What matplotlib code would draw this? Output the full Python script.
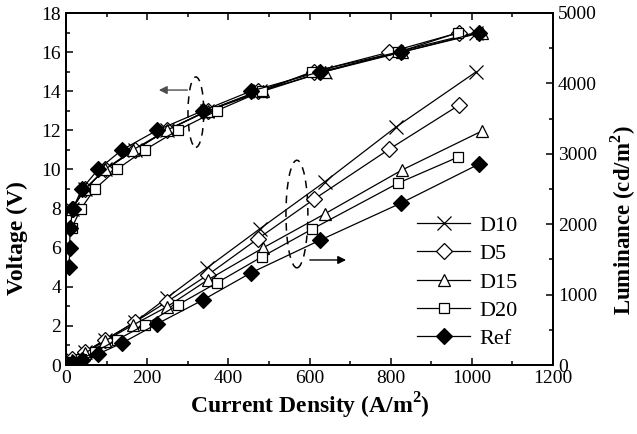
import matplotlib.pyplot as plt
from matplotlib.patches import Ellipse

plt.rcParams['font.family'] = ['Liberation Serif', 'DejaVu Serif']
plt.rcParams['mathtext.fontset'] = 'custom'
plt.rcParams['mathtext.rm'] = 'Liberation Serif'
plt.rcParams['mathtext.bf'] = 'Liberation Serif:bold'

# current density (A/m^2), voltage (V), luminance (cd/m^2) for each device
j_d10 = [15, 47, 96, 170, 248, 347, 477, 637, 813, 1010]
v_d10 = [8, 9, 10, 11, 12, 13, 14, 15, 16, 17]
l_d10 = [85, 185, 355, 611, 952, 1378, 1932, 2600, 3380, 4162]

j_d5 = [15, 47, 96, 170, 248, 349, 472, 612, 797, 969]
v_d5 = [8, 9, 10, 11, 12, 13, 14, 15, 16, 17]
l_d5 = [85, 185, 355, 611, 895, 1278, 1790, 2358, 3068, 3693]

j_d15 = [15, 47, 96, 165, 248, 349, 485, 637, 828, 1025]
v_d15 = [8, 9, 10, 11, 12, 13, 14, 15, 16, 17]
l_d15 = [71, 170, 341, 568, 824, 1207, 1662, 2145, 2770, 3324]

j_d20 = [14, 37, 71, 125, 194, 275, 371, 482, 607, 819, 967]
v_d20 = [7, 8, 9, 10, 11, 12, 13, 14, 15, 16, 17]
l_d20 = [43, 85, 185, 355, 568, 852, 1165, 1534, 1932, 2585, 2955]

j_ref = [8, 9, 10, 17, 39, 79, 138, 224, 337, 455, 627, 826, 1018]
v_ref = [5, 6, 7, 8, 9, 10, 11, 12, 13, 14, 15, 16, 17]
l_ref = [0, 0, 0, 28, 71, 156, 312, 582, 923, 1307, 1776, 2301, 2855]

series = [
    ("D10", j_d10, v_d10, l_d10, dict(marker='x', ms=10, mfc='none')),
    ("D5", j_d5, v_d5, l_d5, dict(marker='D', ms=8, mfc='white')),
    ("D15", j_d15, v_d15, l_d15, dict(marker='^', ms=9, mfc='white')),
    ("D20", j_d20, v_d20, l_d20, dict(marker='s', ms=7.5, mfc='white')),
    ("Ref", j_ref, v_ref, l_ref, dict(marker='D', ms=8, mfc='black')),
]

fig = plt.figure(figsize=(6.37, 4.34), dpi=100)
ax1 = fig.add_axes([66/637, 1-365/434, 487/637, 352/434])
ax2 = ax1.twinx()

for name, j, v, l, st in series:
    ax1.plot(j, v, color='black', lw=0.9, mec='black', mew=0.9, **st)
    ax2.plot(j, l, color='black', lw=0.9, mec='black', mew=0.9, label=name, **st)

ax1.set_xlim(0, 1200)
ax1.set_ylim(0, 18)
ax2.set_ylim(0, 5000)
ax1.set_xticks(range(0, 1201, 200))
ax1.set_xticks(range(100, 1200, 200), minor=True)
ax1.set_yticks(range(0, 19, 2))
ax1.set_yticks(range(1, 18, 2), minor=True)
ax2.set_yticks(range(0, 5001, 1000))
ax2.set_yticks(range(500, 5000, 1000), minor=True)

ax1.tick_params(which='both', direction='in', top=True, labelsize=14, width=1.1)
ax1.tick_params(which='major', length=5)
ax1.tick_params(which='minor', length=3)
ax2.tick_params(which='both', direction='in', labelsize=14, width=1.1)
ax2.tick_params(which='major', length=5)
ax2.tick_params(which='minor', length=3)
for a in (ax1, ax2):
    for s in a.spines.values():
        s.set_linewidth(1.3)

ax1.set_xlabel(r'Current Density (A/m$^{\mathbf{2}}$)', fontsize=17, fontweight='bold', labelpad=3)
ax1.set_ylabel('Voltage (V)', fontsize=17, fontweight='bold')
ax2.set_ylabel(r'Luminance (cd/m$^{\mathbf{2}}$)', fontsize=16.5, fontweight='bold', rotation=90)
ax1.yaxis.set_label_coords(-0.078, 0.36)
ax2.yaxis.set_label_coords(1.113, 0.41)

# dashed ellipses and arrows pointing to the axes
ax1.add_patch(Ellipse((320, 12.93), 39, 3.6, fill=False, ls=(0, (5, 4)), lw=1.1, color='black'))
ax1.add_patch(Ellipse((569, 7.72), 54, 5.5, fill=False, ls=(0, (5, 4)), lw=1.1, color='black'))
ax1.annotate('', xy=(222, 14.06), xytext=(306, 14.06),
             arrowprops=dict(arrowstyle='-|>', color='0.3', lw=1, mutation_scale=12))
ax1.annotate('', xy=(697, 5.37), xytext=(594, 5.37),
             arrowprops=dict(arrowstyle='-|>', color='black', lw=1, mutation_scale=12))

ax2.legend(loc='upper left', bbox_to_anchor=(0.68, 0.482), frameon=False,
           fontsize=16, handlelength=2.4, labelspacing=0.35, handletextpad=0.4)

fig.savefig('out.png', dpi=100)
